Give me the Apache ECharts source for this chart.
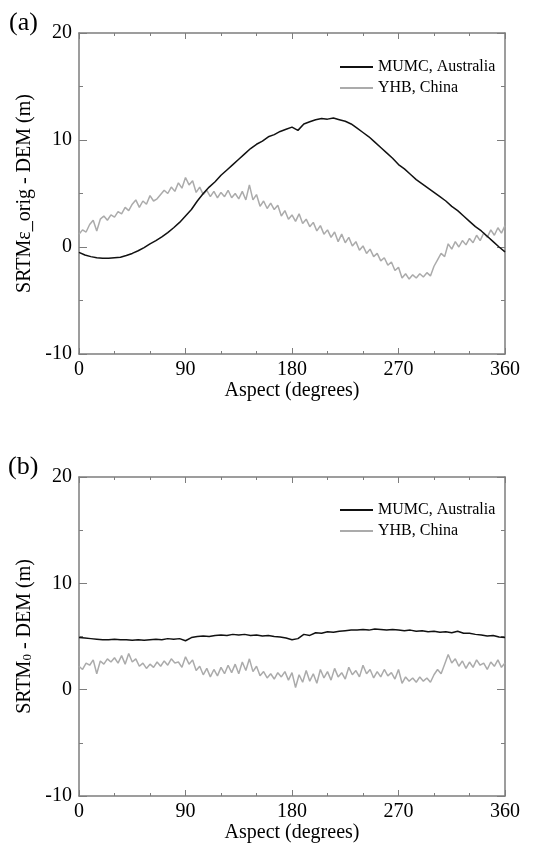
<!DOCTYPE html>
<html>
<head>
<meta charset="utf-8">
<script src="https://cdn.jsdelivr.net/npm/echarts@6.0.0/dist/echarts.min.js"></script>
<style>
  html, body { margin: 0; padding: 0; background: #fff; }
  #chart { width: 542px; height: 855px; }
</style>
</head>
<body>
<div id="chart"></div>
<script>
// aspect sampling (degrees) of each series
const stepMumc = 5;
const stepYhb = 3;

// (a) SRTM eps_orig - DEM (m)
const mumcOrig = [
  -0.5, -0.75, -0.9, -1.0, -1.05, -1.05,
  -1.0, -0.95, -0.8, -0.6, -0.35, -0.05,
  0.3, 0.6, 0.95, 1.35, 1.8, 2.3,
  2.9, 3.5, 4.3, 5.0, 5.6, 6.1,
  6.7, 7.2, 7.7, 8.2, 8.7, 9.2,
  9.6, 9.9, 10.3, 10.5, 10.8, 11.0,
  11.2, 10.9, 11.5, 11.7, 11.9, 12.0,
  11.95, 12.05, 11.9, 11.75, 11.5, 11.1,
  10.7, 10.3, 9.8, 9.3, 8.8, 8.3,
  7.7, 7.3, 6.8, 6.3, 5.9, 5.5,
  5.1, 4.7, 4.3, 3.8, 3.4, 2.9,
  2.4, 1.9, 1.5, 1.0, 0.5, 0.0,
  -0.45
];
const yhbOrig = [
  1.2, 1.6, 1.4, 2.1, 2.5, 1.5, 2.6, 2.9, 2.5, 3.0,
  2.8, 3.3, 3.1, 3.7, 3.4, 4.0, 4.4, 3.7, 4.3, 4.0,
  4.8, 4.3, 4.5, 4.9, 5.3, 5.0, 5.6, 5.2, 6.0, 5.5,
  6.5, 5.8, 6.2, 5.1, 5.6, 4.9, 5.3, 4.7, 5.2, 4.6,
  5.1, 4.7, 5.3, 4.6, 5.0, 4.5, 5.2, 4.4, 5.8, 4.4,
  4.9, 3.8, 4.3, 3.6, 4.1, 3.5, 3.9, 2.9, 3.4, 2.6,
  3.0, 2.4, 3.1, 2.2, 2.6, 1.9, 2.3, 1.5, 2.0, 1.2,
  1.6, 0.9, 1.4, 0.5, 1.2, 0.4, 0.9, 0.1, 0.5, -0.3,
  0.1, -0.6, -0.2, -0.9, -0.6, -1.3, -1.0, -1.7, -1.4, -2.2,
  -1.9, -2.9, -2.5, -3.0, -2.6, -2.9, -2.5, -2.8, -2.4, -2.7,
  -1.8, -1.2, -0.6, -0.9, 0.3, -0.2, 0.5, 0.0, 0.6, 0.2,
  0.8, 0.4, 1.1, 0.6, 1.3, 0.9, 1.6, 1.1, 1.8, 1.3,
  2.0
];

// (b) SRTM0 - DEM (m)
const mumcZero = [
  4.9, 4.85, 4.8, 4.75, 4.7, 4.7,
  4.75, 4.7, 4.7, 4.65, 4.7, 4.65,
  4.7, 4.75, 4.7, 4.8, 4.75, 4.8,
  4.6, 4.9, 5.0, 5.05, 5.0, 5.1,
  5.15, 5.1, 5.2, 5.15, 5.2, 5.1,
  5.15, 5.05, 5.1, 5.0, 4.95, 4.85,
  4.7, 4.8, 5.2, 5.1, 5.35, 5.3,
  5.45, 5.4, 5.5, 5.55, 5.6, 5.6,
  5.65, 5.6, 5.7, 5.65, 5.6, 5.65,
  5.6, 5.55, 5.6, 5.5, 5.55, 5.45,
  5.5, 5.4, 5.45, 5.35, 5.5, 5.3,
  5.3, 5.2, 5.15, 5.05, 5.1, 4.95,
  4.9
];
const yhbZero = [
  2.2, 1.9, 2.5, 2.3, 2.8, 1.5, 2.7, 2.4, 2.9, 2.6,
  3.0, 2.5, 3.2, 2.4, 3.4, 2.6, 2.9, 2.2, 2.5, 2.0,
  2.4, 2.1, 2.6, 2.2, 2.7, 2.3, 2.9, 2.5, 2.6, 2.1,
  3.1, 2.4, 2.8, 1.8, 2.2, 1.4, 2.0, 1.2, 1.9, 1.3,
  2.1, 1.5, 2.3, 1.6, 2.4, 1.5, 2.6, 1.8, 2.9, 1.7,
  2.2, 1.3, 1.7, 1.1, 1.5, 1.0, 1.6, 1.2, 1.7, 0.9,
  1.6, 0.2, 1.4, 0.7, 1.8, 0.8, 1.5, 0.6, 1.9, 1.1,
  1.7, 0.9, 2.0, 1.2, 1.6, 1.0, 2.1, 1.4, 1.8, 1.2,
  2.3, 1.5, 1.9, 1.1, 1.7, 1.2, 1.9, 1.3, 1.6, 1.0,
  1.9, 0.6, 1.2, 0.8, 1.1, 0.7, 1.2, 0.8, 1.1, 0.7,
  1.4, 1.9, 1.5, 2.4, 3.3, 2.5, 2.9, 2.2, 2.7, 2.0,
  2.6, 2.1, 2.8, 2.3, 2.5, 1.9, 2.6, 2.2, 2.8, 2.1,
  2.5
];

const seriesNames = ['MUMC, Australia', 'YHB, China'];
const serif = 'Liberation Serif';
const frameColor = '#7d7d7d';

function pairs(step, values) {
  return values.map((v, i) => [i * step, v]);
}

const myChart = echarts.init(document.getElementById('chart'), null, { renderer: 'canvas' });

function xAxes(gridIndex) {
  const base = {
    type: 'value',
    gridIndex: gridIndex,
    min: 0,
    max: 360,
    interval: 90,
    axisLine: { onZero: false, lineStyle: { color: frameColor, width: 1.5 } },
    axisTick: { inside: true, length: 6, lineStyle: { color: frameColor, width: 1 } },
    minorTick: { show: true, splitNumber: 3, length: 3, lineStyle: { color: frameColor, width: 1 } },
    splitLine: { show: false },
  };
  return [
    Object.assign({}, base, {
      position: 'bottom',
      name: 'Aspect (degrees)',
      nameLocation: 'middle',
      nameGap: 18,
      nameTextStyle: { fontFamily: serif, fontSize: 20, color: '#000' },
      axisLabel: { fontFamily: serif, fontSize: 20, color: '#000', margin: 6 },
    }),
    Object.assign({}, base, { position: 'top', axisLabel: { show: false } }),
  ];
}

function yAxes(gridIndex, name, rich) {
  const base = {
    type: 'value',
    gridIndex: gridIndex,
    min: -10,
    max: 20,
    interval: 10,
    axisLine: { onZero: false, lineStyle: { color: frameColor, width: 1.5 } },
    axisTick: { inside: true, length: 8, lineStyle: { color: frameColor, width: 1 } },
    minorTick: { show: true, splitNumber: 2, length: 4, lineStyle: { color: frameColor, width: 1 } },
    splitLine: { show: false },
  };
  return [
    Object.assign({}, base, {
      position: 'left',
      name: name,
      nameLocation: 'middle',
      nameGap: 44,
      nameTextStyle: { fontFamily: serif, fontSize: 20, color: '#000', rich: rich },
      axisLabel: { fontFamily: serif, fontSize: 20, color: '#000', margin: 7 },
    }),
    Object.assign({}, base, { position: 'right', axisLabel: { show: false } }),
  ];
}

function legend(top) {
  return {
    top: top,
    left: 340,
    orient: 'vertical',
    padding: 0,
    itemWidth: 33,
    itemHeight: 2,
    itemGap: 5,
    icon: 'rect',
    selectedMode: false,
    textStyle: { fontFamily: serif, fontSize: 16, color: '#000' },
    data: seriesNames,
  };
}

function line(name, color, width, xi, yi, data) {
  return {
    name: name,
    type: 'line',
    xAxisIndex: xi,
    yAxisIndex: yi,
    symbol: 'none',
    color: color,
    lineStyle: { color: color, width: width },
    emphasis: { disabled: true },
    data: data,
  };
}

const subRich = {
  a: { fontFamily: serif, fontSize: 20, color: '#000' },
  s: { fontFamily: serif, fontSize: 13, color: '#000', verticalAlign: 'bottom', padding: [6, 0, 0, 0] },
};

myChart.setOption({
  animation: false,
  grid: [
    { left: 79, right: 37, top: 33, height: 321 },
    { left: 79, right: 37, top: 477, height: 319 },
  ],
  xAxis: xAxes(0).concat(xAxes(1)),
  yAxis: yAxes(0, 'SRTMε_orig - DEM (m)').concat(
    yAxes(1, '{a|SRTM}{s|0}{a| - DEM (m)}', subRich)
  ),
  legend: [legend(59), legend(502)],
  graphic: [
    { type: 'text', left: 9, top: 10, style: { text: '(a)', font: '26px "Liberation Serif"', fill: '#000' } },
    { type: 'text', left: 8, top: 454, style: { text: '(b)', font: '26px "Liberation Serif"', fill: '#000' } },
  ],
  series: [
    line(seriesNames[1], '#ababab', 1.5, 0, 0, pairs(stepYhb, yhbOrig)),
    line(seriesNames[0], '#111111', 1.5, 0, 0, pairs(stepMumc, mumcOrig)),
    line(seriesNames[1], '#ababab', 1.5, 2, 2, pairs(stepYhb, yhbZero)),
    line(seriesNames[0], '#111111', 1.5, 2, 2, pairs(stepMumc, mumcZero)),
  ],
});
</script>
</body>
</html>
